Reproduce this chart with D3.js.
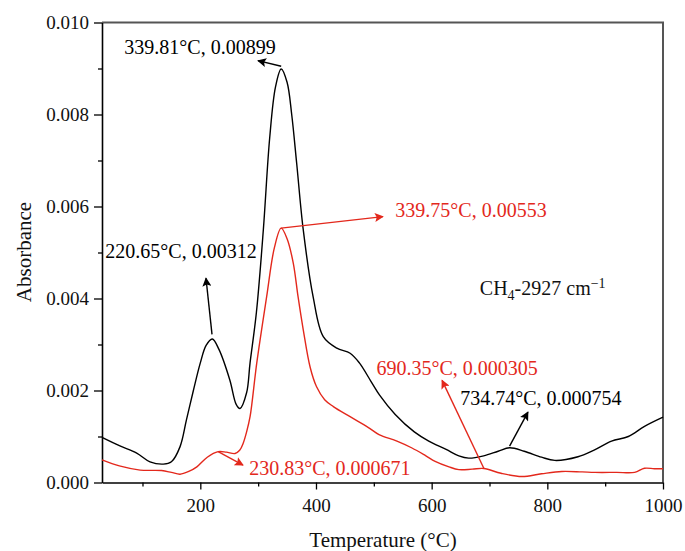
<!DOCTYPE html>
<html><head><meta charset="utf-8">
<script src="https://cdn.jsdelivr.net/npm/d3@7"></script>
<style>body{margin:0;background:#fff;} text{font-family:"Liberation Serif","Times New Roman",serif;}</style>
</head><body><svg id="c" width="685" height="551"></svg>
<script>
const blackT = [30,60,90,113,136,150,165,176,188,200,210,220.65,232,251,262,268.6,280,286,297,309,320,330,339.81,350,358,366.6,378,395,412.6,436,459,475,495,510,537,570,595,625,647,664,690,715,734.74,760,790,813,853,880,911,940,968,1000];
const blackV = [0.00098,0.0008,0.00064,0.00045,0.0004,0.00045,0.00078,0.00136,0.0020,0.0026,0.00298,0.00312,0.0029,0.00223,0.0017,0.00161,0.00195,0.0026,0.0037,0.0055,0.0075,0.0086,0.00899,0.0087,0.0080,0.00694,0.00549,0.00404,0.00317,0.00292,0.00281,0.0026,0.0022,0.0019,0.00148,0.0011,0.0009,0.00072,0.00058,0.00053,0.00058,0.00068,0.000754,0.00068,0.00055,0.00048,0.00056,0.0007,0.0009,0.0010,0.00122,0.00142];
const redT = [30,60,96,133,150,165,180,194,212,230.83,245,260,268,274,280,286,297.5,314.7,328,339.75,350,360.7,369,378,390,401,415,430,459,490,509,540,566,590,606,630,647,670,690.35,720,756,790,825,860,882,920,951,968,985,1000];
const redV = [0.00049,0.00036,0.00027,0.00026,0.00022,0.00018,0.00024,0.00034,0.00055,0.000671,0.00066,0.00063,0.0007,0.00085,0.0011,0.00143,0.00259,0.00404,0.0051,0.00553,0.0053,0.00477,0.00404,0.00332,0.0025,0.00208,0.0018,0.00165,0.00143,0.0012,0.00104,0.0009,0.00075,0.00058,0.00046,0.00034,0.00028,0.00029,0.000305,0.0002,0.00013,0.00019,0.00024,0.00023,0.00022,0.00022,0.00022,0.00031,0.0003,0.0003];
const xTicks = [200,400,600,800,1000];
const xMinor = [100,300,500,700,900];
const yTicks = [0,0.002,0.004,0.006,0.008,0.010];
const yMinor = [0.001,0.003,0.005,0.007,0.009];
// annotations: label, colour key, point (T,v), arrow head (T,v), text anchor (T,v)
const annLabels = ["339.81°C, 0.00899","220.65°C, 0.00312","339.75°C, 0.00553","690.35°C, 0.000305","734.74°C, 0.000754","230.83°C, 0.000671"];
const annSeries = ["k","k","r","r","k","r"];
const annFrom = [[339.81,0.00905],[220.2,0.00322],[339.75,0.00553],[690.35,0.000305],[734.74,0.00079],[230.83,0.000671]];
const annTo = [[299.7,0.00917],[209.8,0.00444],[515.8,0.00578],[618,0.00222],[766.5,0.00153],[273.8,0.00038]];
const annText = [[199.4,0.00932],[166.6,0.00489],[668,0.00578],[644,0.00233],[789,0.00168],[424,0.00016]];

const colors = {k:"#000000", r:"#e3281c"};
const svg = d3.select("#c");
const x = d3.scaleLinear().domain([30,1000]).range([102,663]);
const y = d3.scaleLinear().domain([0,0.010]).range([482.5,22.5]);

// frame top/right
svg.append("path").attr("d",`M${x(30)},${y(0.010)}H${x(1000)}V${y(0)}`).attr("fill","none").attr("stroke","#555").attr("stroke-width",2);

const xa = svg.append("g").attr("transform",`translate(0,${y(0)})`)
  .call(d3.axisBottom(x).tickValues(xTicks).tickSize(7).tickSizeOuter(0).tickFormat(d3.format("d")));
const xm = svg.append("g").attr("transform",`translate(0,${y(0)})`)
  .call(d3.axisBottom(x).tickValues(xMinor).tickSize(4).tickFormat(""));
xm.select(".domain").remove();
const ya = svg.append("g").attr("transform",`translate(${x(30)},0)`)
  .call(d3.axisLeft(y).tickValues(yTicks).tickSize(8).tickSizeOuter(0).tickFormat(d3.format(".3f")));
const ym = svg.append("g").attr("transform",`translate(${x(30)},0)`)
  .call(d3.axisLeft(y).tickValues(yMinor).tickSize(4).tickFormat(""));
ym.select(".domain").remove();
svg.selectAll(".domain").attr("stroke","#000").attr("stroke-width",1.6);
svg.selectAll(".tick line").attr("stroke","#000").attr("stroke-width",1.3);
xa.selectAll("text").attr("font-size",19).attr("font-family","Liberation Serif").attr("dy","1.05em").attr("fill","#111");
ya.selectAll("text").attr("font-size",19).attr("font-family","Liberation Serif").attr("dx","-0.1em").attr("fill","#111");

svg.append("text").attr("x",383).attr("y",547).attr("text-anchor","middle").attr("font-size",21).attr("fill","#111").text("Temperature (°C)");
svg.append("text").attr("transform","translate(31,252) rotate(-90)").attr("text-anchor","middle").attr("font-size",21).attr("fill","#111").text("Absorbance");

const line = d3.line().x(d=>x(d[0])).y(d=>y(d[1])).curve(d3.curveCatmullRom.alpha(0.5));
svg.append("path").datum(blackT.map((t,i)=>[t,blackV[i]])).attr("d",line).attr("fill","none").attr("stroke",colors.k).attr("stroke-width",1.4);
svg.append("path").datum(redT.map((t,i)=>[t,redV[i]])).attr("d",line).attr("fill","none").attr("stroke",colors.r).attr("stroke-width",1.4);

const defs = svg.append("defs");
Object.entries(colors).forEach(([k,c])=>{
  defs.append("marker").attr("id","ah"+k).attr("viewBox","0 0 10 10").attr("refX",9).attr("refY",5)
    .attr("markerWidth",11).attr("markerHeight",9).attr("markerUnits","userSpaceOnUse").attr("orient","auto")
    .append("path").attr("d","M0,0L10,5L0,10L2,5Z").attr("fill",c);
});
annLabels.forEach((lab,i)=>{
  const c = colors[annSeries[i]];
  svg.append("line").attr("x1",x(annFrom[i][0])).attr("y1",y(annFrom[i][1]))
    .attr("x2",x(annTo[i][0])).attr("y2",y(annTo[i][1]))
    .attr("stroke",c).attr("stroke-width",1.4).attr("marker-end",`url(#ah${annSeries[i]})`);
  svg.append("text").attr("x",x(annText[i][0])).attr("y",y(annText[i][1])).attr("text-anchor","middle")
    .attr("font-size",20).attr("fill",c).text(lab);
});
const ch = svg.append("text").attr("x",x(792)).attr("y",y(0.00407)).attr("text-anchor","middle").attr("font-size",20).attr("fill","#111");
ch.append("tspan").text("CH");
ch.append("tspan").attr("font-size",14).attr("dy",5).text("4");
ch.append("tspan").attr("dy",-5).text("-2927 cm");
ch.append("tspan").attr("font-size",14).attr("dy",-7).text("−1");
</script></body></html>
